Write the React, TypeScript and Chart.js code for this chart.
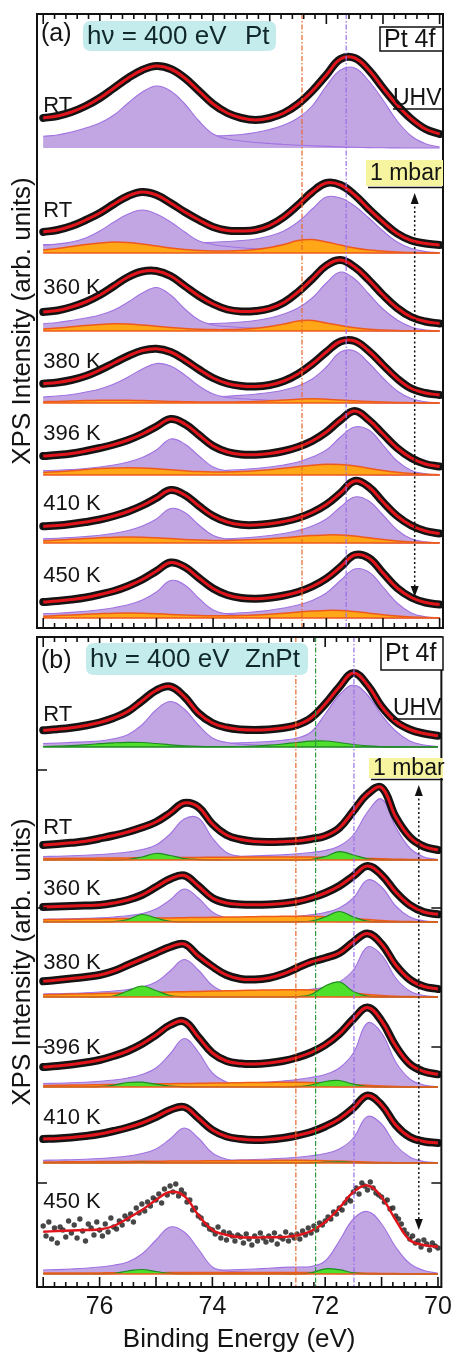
import { useEffect, useRef } from "react";
import { Chart, registerables } from "chart.js";

Chart.register(...registerables);

const FONT = '"Liberation Sans", Arial, Helvetica, sans-serif';

// ---------- axes ----------
const energyGrid = [77.0, 76.75, 76.5, 76.25, 76.0, 75.75, 75.5, 75.25, 75.0, 74.75, 74.5, 74.25, 74.0, 73.75, 73.5, 73.25, 73.0, 72.75, 72.5, 72.25, 72.0, 71.75, 71.5, 71.25, 71.0, 70.75, 70.5, 70.25, 70.0];
const scanGrid = Array.from({ length: 141 }, (_, i) => Math.round((77 - i * 0.05) * 100) / 100);
const xMin = 69.94;
const xMax = 77.11;
const xTickValues = [76, 74, 72, 70];
const yTicksB = [104, 240, 379, 517];

// ---------- panel (a) : Pt ----------
const rowLabelsA = ["RT", "RT", "360 K", "380 K", "396 K", "410 K", "450 K"];
const offsetsA = [480, 375, 297, 225, 153, 85, 10];

const fitA1 = [30, 32, 36, 42, 50, 60, 70, 78, 82, 79, 70, 57, 44, 35, 30, 28, 30, 35, 44, 57, 73, 89, 90, 78, 60, 43, 29, 19, 14];
const plA1 = [11.7, 13, 16, 20, 25, 33, 45, 56, 62, 57, 44, 27, 14, 9, 7, 5.5, 4.5, 3.5, 2.8, 2.2, 1.6, 1.1, 0.7, 0.4, 0.2, 0.1, 0, 0, 0];
const prA1 = [10.5, 10.6, 10.7, 10.8, 10.9, 11, 11.1, 11.2, 11.3, 11.4, 11.5, 11.7, 12, 12.5, 13.5, 15.5, 18.5, 23, 30, 42, 62, 78, 80, 67, 48, 27, 12, 4.3, 1];

const fitA2 = [21, 23, 27, 33, 40, 49, 57, 61, 58, 50, 41, 33, 26, 22.5, 22, 23, 27.5, 36, 48, 61, 70, 68, 58, 44, 31, 19.5, 12.5, 9.5, 8];
const plA2 = [7.7, 9, 11, 15, 22, 31, 39, 43, 39, 31, 21, 12, 8.5, 6.5, 5.2, 4.3, 3.6, 3, 2.5, 2, 1.5, 1, 0.6, 0.3, 0.1, 0, 0, 0, 0];
const prA2 = [8.5, 8.6, 8.7, 8.8, 8.9, 9, 9.2, 9.4, 9.6, 9.8, 10, 10.3, 10.8, 11.5, 12.5, 14, 17, 22, 31, 44, 56, 55, 47, 35, 22, 11, 4.5, 1.5, 0.5];
const orA2 = [3, 4.5, 6.5, 8.5, 10, 11, 10.5, 9, 7, 5, 3.5, 2.5, 2, 2, 2.5, 3.5, 5.5, 8.5, 12.5, 13.5, 11, 8, 5, 3, 2, 1, 0.5, 0.2, 0];

const fitA3 = [19, 20.5, 24, 29, 36, 45, 54, 59.5, 60, 55, 45, 35, 27, 21.5, 19.5, 20, 22.5, 28.5, 39, 52, 65.5, 71, 64, 51, 36, 23, 14, 9.5, 7.5];
const plA3 = [7.3, 8.5, 10.5, 13, 16, 21, 29, 38, 43.5, 36, 22, 11, 6, 4.5, 3.5, 2.8, 2.2, 1.8, 1.4, 1, 0.7, 0.5, 0.3, 0.2, 0, 0, 0, 0, 0];
const prA3 = [6.5, 6.5, 6.6, 6.6, 6.7, 6.7, 6.8, 6.8, 6.9, 6.9, 7, 7.1, 7.4, 8, 9, 10.5, 13, 17, 23, 33, 48, 59, 52, 37, 22, 11, 4, 1, 0.3];
const orA3 = [2, 3, 4.2, 5.5, 6.5, 7.2, 7, 6, 4.8, 3.5, 2.5, 1.8, 1.4, 1.4, 1.8, 2.8, 4.5, 7, 10, 10.5, 8, 5.5, 3.3, 1.8, 1, 0.5, 0.2, 0, 0];

const fitA4 = [19.3, 20.5, 23, 27, 33, 40, 47, 52.5, 54.3, 51, 43, 33.5, 25, 19.5, 17, 16.5, 18, 22, 29, 39, 51, 61.5, 62, 52, 38, 24.5, 14.5, 10, 8];
const plA4 = [6, 7, 8.5, 11, 14, 19, 26, 34, 39.5, 37, 28, 17, 9, 5.5, 4.2, 3.4, 2.8, 2.2, 1.7, 1.3, 0.9, 0.6, 0.4, 0.2, 0.1, 0, 0, 0, 0];
const prA4 = [5.5, 5.5, 5.5, 5.5, 5.5, 5.5, 5.5, 5.5, 5.5, 5.6, 5.7, 5.9, 6.2, 6.8, 7.6, 8.8, 10.5, 13, 17, 24, 36, 51, 52, 40, 25, 12, 4.5, 1.2, 0.3];
const orA4 = [1.2, 1.6, 2, 2.4, 2.7, 2.8, 2.7, 2.4, 2, 1.6, 1.3, 1.1, 1, 1, 1.2, 1.6, 2.2, 3, 3.8, 4.2, 3.8, 3, 2.2, 1.5, 1, 0.6, 0.3, 0.1, 0];

const fitA5 = [19, 20, 21.5, 24, 27, 30.5, 35, 41, 48.5, 56, 51, 40, 29, 23, 20.5, 20.3, 21.5, 24, 28, 34, 43, 55, 64, 55, 41, 27, 17, 11, 8.5];
const plA5 = [4.3, 4.8, 5.5, 6.5, 8, 10, 13, 17.5, 25, 36, 31, 19, 8, 4, 2.8, 2.2, 1.8, 1.4, 1.1, 0.8, 0.6, 0.4, 0.3, 0.2, 0.1, 0, 0, 0, 0];
const prA5 = [4, 4, 4, 4, 4, 4, 4, 4, 4, 4, 4, 4, 4.2, 4.6, 5.5, 6.5, 8, 10, 13, 18, 25, 38, 48, 45, 30, 14, 4.5, 1.2, 0.3];
const orA5 = [2.5, 3.3, 4.3, 5.4, 6.4, 7, 7.3, 7, 6.2, 5.2, 4.2, 3.4, 3, 3, 3.4, 4.2, 5.3, 6.7, 8.3, 9.8, 10.8, 10.5, 9, 6.8, 4.5, 2.7, 1.4, 0.7, 0.3];

const fitA6 = [16.7, 17.5, 19, 21, 23.5, 27, 31.5, 37.5, 45, 53, 48, 37, 27, 21, 18.2, 18, 19.2, 21.5, 25, 30.5, 38.5, 50, 62, 56, 41, 27, 17.5, 12, 9.5];
const plA6 = [4.3, 4.8, 5.5, 6.5, 7.8, 9.7, 12.5, 17, 24, 34.5, 30.5, 18, 7.5, 3.8, 2.7, 2.1, 1.7, 1.3, 1, 0.8, 0.6, 0.4, 0.3, 0.2, 0.1, 0, 0, 0, 0];
const prA6 = [3.8, 3.8, 3.8, 3.8, 3.8, 3.8, 3.8, 3.8, 3.8, 3.8, 3.8, 3.8, 4, 4.3, 5, 6, 7.5, 9.5, 12.5, 17, 24, 36, 46, 42, 28, 13, 4.2, 1.1, 0.3];
const orA6 = [2.2, 2.9, 3.7, 4.5, 5.2, 5.8, 6, 5.8, 5.2, 4.4, 3.6, 3, 2.6, 2.6, 2.9, 3.5, 4.3, 5.3, 6.4, 7.4, 8.1, 8, 6.9, 5.2, 3.5, 2.1, 1.1, 0.5, 0.2];

const fitA7 = [16, 17, 18.5, 20.5, 23.5, 27, 32, 38.5, 47, 55.5, 51, 40, 29.5, 23, 20, 19.3, 20.3, 22.5, 26, 31.5, 39.5, 51, 63, 60, 45, 30, 20.5, 15.5, 13.5];
const plA7 = [4.3, 4.8, 5.6, 6.7, 8.2, 10.3, 13.3, 18, 26, 37.5, 33, 19.5, 8, 4, 2.8, 2.2, 1.7, 1.3, 1, 0.8, 0.6, 0.4, 0.3, 0.2, 0.1, 0, 0, 0, 0];
const prA7 = [4, 4, 4, 4, 4, 4, 4, 4, 4, 4, 4, 4, 4.2, 4.5, 5.2, 6.2, 7.8, 10, 13, 17.5, 25, 37.5, 49, 46, 31, 15, 5, 1.3, 0.3];
const orA7 = [1.8, 2.4, 3, 3.7, 4.3, 4.8, 5, 4.8, 4.3, 3.6, 3, 2.5, 2.2, 2.2, 2.5, 3, 3.8, 4.8, 5.9, 6.9, 7.6, 7.5, 6.4, 4.8, 3.2, 1.9, 1, 0.4, 0.2];

// ---------- panel (b) : ZnPt ----------
const rowLabelsB = ["RT", "RT", "360 K", "380 K", "396 K", "410 K", "450 K"];
const offsetsB = [540, 427, 365, 290, 200, 124, 13];

const fitB1 = [16.7, 17.8, 19.3, 21.5, 24.5, 29, 35.5, 46, 56.5, 60.5, 50.5, 34, 24, 19.5, 17.5, 17, 17.5, 19, 22, 29, 43, 60, 74, 62, 40.5, 25.5, 17.5, 13.5, 11.3];
const plB1 = [3.5, 4, 4.6, 5.2, 6, 8.3, 12.3, 22, 37, 45.5, 38, 22, 9, 4.5, 2.8, 2, 1.5, 1.2, 1, 0.8, 0.6, 0.4, 0.3, 0.2, 0.1, 0, 0, 0, 0];
const prB1 = [3.3, 3.3, 3.3, 3.3, 3.3, 3.3, 3.3, 3.3, 3.3, 3.3, 3.3, 3.3, 3.5, 3.8, 4.2, 4.8, 5.5, 6.7, 9, 15, 33, 52, 62, 52, 32, 16, 6, 2, 0.5];
const grB1 = [0.5, 0.8, 1.3, 2.2, 3.3, 4.2, 4.7, 4.5, 3.5, 2.2, 1.2, 0.6, 0.3, 0.3, 0.5, 1, 1.8, 3, 4.5, 5.8, 6, 4.5, 2.5, 1.1, 0.4, 0.1, 0, 0, 0];

const fitB2 = [15, 16, 17.2, 18.7, 21.5, 24.5, 28, 32.5, 38, 47, 57, 53, 36, 25, 20.5, 18.5, 18, 18.3, 19, 21, 24, 32, 49, 66, 72.5, 43, 23, 13.5, 10];
const plB2 = [3.5, 3.8, 4.2, 4.8, 5.5, 6.5, 8, 10.5, 15, 26, 41, 42, 22, 7.5, 3.5, 2.2, 1.6, 1.3, 1, 0.8, 0.6, 0.5, 0.4, 0.3, 0.2, 0.1, 0, 0, 0];
const prB2 = [3, 3, 3, 3, 3, 3, 3, 3, 3, 3, 3, 3, 3.2, 3.4, 3.7, 4.1, 4.6, 5.3, 6.2, 7.5, 9.5, 14, 25, 48, 61, 33, 12, 3, 0.5];
const grB2 = [0, 0, 0, 0, 0, 0, 0.5, 3, 6.5, 4.5, 1.5, 0.4, 0, 0, 0, 0, 0, 0, 0, 0.4, 3.5, 8.3, 5, 1.2, 0.2, 0, 0, 0, 0];
const orB2 = [1.5, 1.6, 1.7, 1.8, 1.9, 2, 2.1, 2.2, 2.3, 2.4, 2.5, 2.6, 2.7, 2.8, 2.9, 3, 3, 3, 3, 2.9, 2.7, 2.4, 2, 1.6, 1.2, 0.8, 0.5, 0.3, 0.2];

const fitB3 = [15, 15.5, 16, 16.5, 17, 19, 22, 27, 35, 43, 46.5, 36, 24, 19, 17.5, 17.2, 17.5, 18.5, 20.5, 24, 29, 36, 46, 56, 47, 30, 17, 10, 7.7];
const plB3 = [2.8, 3, 3.3, 3.7, 4.2, 5, 6.3, 8.5, 13, 22, 33, 24, 10, 4, 2.2, 1.5, 1.1, 0.9, 0.7, 0.6, 0.5, 0.4, 0.3, 0.2, 0.1, 0, 0, 0, 0];
const prB3 = [2.5, 2.5, 2.5, 2.5, 2.5, 2.5, 2.5, 2.5, 2.5, 2.5, 2.5, 2.5, 2.6, 2.8, 3.1, 3.5, 4, 4.7, 5.7, 7.2, 9.5, 14, 24, 42, 35, 16, 5, 1.2, 0.3];
const grB3 = [0, 0, 0, 0, 0, 0.3, 2.5, 7.5, 4, 0.6, 0.1, 0, 0, 0, 0, 0, 0, 0, 0.2, 1, 5, 10.5, 5, 0.8, 0.1, 0, 0, 0, 0];
const orB3 = [2.3, 2.5, 2.7, 2.9, 3.1, 3.3, 3.5, 3.7, 3.9, 4.1, 4.3, 4.5, 4.7, 4.9, 5.1, 5.3, 5.5, 5.7, 5.8, 5.7, 5.3, 4.6, 3.6, 2.5, 1.5, 0.8, 0.4, 0.2, 0.1];

const fitB4 = [15.7, 17, 18.5, 20, 22, 26, 32, 38, 44, 50, 53, 41, 30.5, 22, 18, 17.5, 19, 23, 29, 35, 39, 44, 55, 63.5, 53, 32, 17.5, 10.5, 8];
const plB4 = [3, 3.3, 3.7, 4.2, 5, 6, 7.5, 10, 15, 26, 37.5, 27, 11.5, 4.5, 2.3, 1.5, 1.1, 0.9, 0.7, 0.6, 0.5, 0.4, 0.3, 0.2, 0.1, 0, 0, 0, 0];
const prB4 = [2.7, 2.7, 2.7, 2.7, 2.7, 2.7, 2.7, 2.7, 2.7, 2.7, 2.7, 2.7, 2.8, 3, 3.3, 3.7, 4.2, 5, 6, 7.6, 10, 15, 27, 50, 42, 19, 6, 1.5, 0.3];
const grB4 = [0, 0, 0, 0, 0, 1, 6, 11, 6.5, 1.5, 0.2, 0, 0, 0, 0, 0, 0, 0, 0.3, 2.5, 11, 15, 5.5, 0.8, 0.1, 0, 0, 0, 0];
const orB4 = [2.3, 2.6, 2.9, 3.2, 3.5, 3.8, 4.1, 4.4, 4.7, 5, 5.3, 5.6, 5.9, 6.2, 6.5, 6.8, 7, 7.2, 7.3, 7.1, 6.4, 5.2, 3.8, 2.5, 1.5, 0.8, 0.4, 0.2, 0.1];

const fitB5 = [20, 21, 22.5, 24.5, 27, 31, 36, 43, 52, 62, 65.5, 50, 34, 26, 23.5, 23, 24, 26, 29.5, 34.5, 42, 53, 68, 79.5, 66, 41, 23, 15.5, 12.7];
const plB5 = [3.5, 3.8, 4.2, 4.8, 5.7, 7, 9, 12.5, 19, 33, 48.5, 35, 14, 5, 2.5, 1.6, 1.2, 0.9, 0.7, 0.6, 0.5, 0.4, 0.3, 0.2, 0.1, 0, 0, 0, 0];
const prB5 = [3, 3, 3, 3, 3, 3, 3, 3, 3, 3, 3, 3, 3.2, 3.4, 3.8, 4.3, 5, 6, 7.4, 9.5, 12.5, 19, 34, 64, 54, 25, 8, 2, 0.4];
const grB5 = [0, 0, 0, 0, 0.3, 1.8, 4.5, 4.8, 2.8, 0.9, 0.2, 0, 0, 0, 0, 0, 0, 0, 0.3, 2, 5.5, 6.5, 2.8, 0.5, 0, 0, 0, 0, 0];
const orB5 = [1.5, 1.7, 1.9, 2.1, 2.3, 2.5, 2.7, 2.9, 3.1, 3.3, 3.5, 3.7, 3.9, 4.1, 4.3, 4.5, 4.6, 4.7, 4.7, 4.5, 4, 3.3, 2.5, 1.7, 1, 0.5, 0.3, 0.1, 0];

const fitB6 = [24, 24.5, 25.5, 27, 29, 32, 35.5, 40, 46, 53, 56, 45, 33, 26.5, 24, 23, 23.5, 25, 27.5, 31, 36.5, 44, 55, 67.5, 58, 38, 26, 21.5, 20];
const plB6 = [2.7, 3, 3.3, 3.8, 4.5, 5.5, 7, 9.5, 14, 24, 35, 25, 10, 3.8, 2, 1.4, 1, 0.8, 0.7, 0.6, 0.5, 0.4, 0.3, 0.2, 0.1, 0, 0, 0, 0];
const prB6 = [2.5, 2.5, 2.5, 2.5, 2.5, 2.5, 2.5, 2.5, 2.5, 2.5, 2.5, 2.5, 2.6, 2.8, 3.1, 3.5, 4, 4.7, 5.7, 7.2, 9.5, 14, 25, 46.5, 39, 18, 6, 1.5, 0.3];
const grB6 = [0, 0, 0, 0, 0, 0, 0.3, 0.6, 0.3, 0, 0, 0, 0, 0, 0, 0, 0, 0, 0, 0.2, 0.8, 1.2, 0.5, 0.1, 0, 0, 0, 0, 0];
const orB6 = [1, 1.1, 1.2, 1.3, 1.4, 1.5, 1.6, 1.7, 1.8, 1.9, 2, 2.1, 2.2, 2.3, 2.4, 2.5, 2.6, 2.7, 2.7, 2.6, 2.3, 1.9, 1.4, 1, 0.6, 0.3, 0.2, 0.1, 0];

const fitB7 = [42.3, 43, 43.5, 44, 44.5, 48, 55.7, 64, 74, 82, 78, 59, 44, 39, 36.7, 36.5, 36.7, 37, 38.5, 43, 52, 66, 82, 88.5, 77, 54, 34, 29, 27.3];
const plB7 = [4, 4.4, 5, 5.8, 7, 8.8, 12, 20, 34, 47, 42, 25, 7, 3, 2, 1.4, 1.1, 0.9, 0.7, 0.6, 0.5, 0.4, 0.3, 0.2, 0.1, 0, 0, 0, 0];
const prB7 = [3.5, 3.5, 3.5, 3.5, 3.5, 3.5, 3.5, 3.5, 3.5, 3.5, 3.5, 3.5, 3.7, 4, 4.4, 5, 5.7, 6.6, 7, 7.5, 13, 33, 55, 62.5, 50, 27, 10.5, 3.5, 0.8];
const grB7 = [0, 0, 0, 0, 0, 0.5, 3, 4.5, 2.5, 0.6, 0.1, 0, 0, 0, 0, 0, 0, 0, 0, 1.2, 5.2, 4.3, 1.2, 0.2, 0, 0, 0, 0, 0];
const orB7 = [1, 1, 1, 1.1, 1.1, 1.2, 1.2, 1.3, 1.3, 1.4, 1.4, 1.5, 1.5, 1.5, 1.6, 1.6, 1.6, 1.6, 1.6, 1.5, 1.4, 1.2, 1, 0.8, 0.6, 0.4, 0.2, 0.1, 0];
// raw (noisy) counts of the 450 K ZnPt spectrum on the 0.05 eV scan grid
const rawB7 = [
  48, 38, 52, 35, 46, 31, 47, 44, 37, 53,
  41, 49, 36, 55, 43, 33, 50, 46, 39, 52,
  44, 38, 50, 42, 56, 47, 45, 53, 49, 58,
  55, 60, 52, 66, 61, 70, 63, 72, 68, 76,
  74, 80, 71, 85, 79, 88, 82, 90, 78, 84,
  80, 72, 74, 64, 66, 58, 56, 50, 49, 45,
  44, 40, 47, 36, 42, 34, 41, 38, 33, 39,
  37, 31, 40, 35, 29, 38, 33, 41, 36, 32,
  38, 34, 41, 30, 37, 35, 42, 33, 39, 36,
  40, 35, 43, 39, 46, 41, 48, 44, 51, 49,
  53, 57, 55, 62, 60, 66, 64, 71, 75, 73,
  82, 86, 80, 91, 88, 84, 92, 86, 81, 79,
  77, 72, 74, 65, 66, 58, 55, 50, 44, 40,
  35, 38, 31, 33, 27, 34, 30, 24, 31, 28,
  26,
];

const fitsA = [fitA1, fitA2, fitA3, fitA4, fitA5, fitA6, fitA7];
const purpleLA = [plA1, plA2, plA3, plA4, plA5, plA6, plA7];
const purpleRA = [prA1, prA2, prA3, prA4, prA5, prA6, prA7];
const orangeA = [null, orA2, orA3, orA4, orA5, orA6, orA7];
const greenA = [null, null, null, null, null, null, null];

const fitsB = [fitB1, fitB2, fitB3, fitB4, fitB5, fitB6, fitB7];
const purpleLB = [plB1, plB2, plB3, plB4, plB5, plB6, plB7];
const purpleRB = [prB1, prB2, prB3, prB4, prB5, prB6, prB7];
const orangeB = [null, orB2, orB3, orB4, orB5, orB6, orB7];
const greenB = [grB1, grB2, grB3, grB4, grB5, grB6, grB7];

// ---------- styles ----------
const PURPLE_FILL = "#c2a5e3";
const PURPLE_LINE = "#a073e2";
const ORANGE_FILL = "#ffa716";
const ORANGE_LINE = "#ee5a1e";
const GREEN_FILL = "#4fe02c";
const GREEN_LINE = "#1f8a24";
const RED = "#e0141a";
const BLACK = "#141414";
const CYAN = "#c4ecec";
const YELLOW = "#f7f4a0";

function curve(offset: number, values: number[], opts: any) {
  return {
    data: energyGrid.map((x, j) => ({ x, y: offset + values[j] })),
    pointRadius: 0,
    tension: 0.4,
    ...opts,
  };
}

function buildDatasets(offsets: number[], fits: number[][], pl: number[][], pr: number[][], or: any[], gr: any[], noisyRow: number, raw: number[] | null) {
  const out: any[] = [];
  offsets.forEach((off, i) => {
    out.push(curve(off, pr[i], { fill: { value: off }, backgroundColor: PURPLE_FILL, borderColor: PURPLE_LINE, borderWidth: 1.1, order: 6 }));
    out.push(curve(off, pl[i], { fill: { value: off }, backgroundColor: PURPLE_FILL, borderColor: PURPLE_LINE, borderWidth: 1.1, order: 5 }));
    if (or[i]) out.push(curve(off, or[i], { fill: { value: off }, backgroundColor: ORANGE_FILL, borderColor: ORANGE_LINE, borderWidth: 1.5, order: 4 }));
    if (gr[i]) out.push(curve(off, gr[i], { fill: { value: off }, backgroundColor: GREEN_FILL, borderColor: GREEN_LINE, borderWidth: 1.2, order: 3 }));
    if (i === noisyRow && raw) {
      out.push({
        data: scanGrid.map((x, j) => ({ x, y: off + raw[j] })),
        showLine: false,
        pointRadius: 2.7,
        pointBorderWidth: 0,
        pointBackgroundColor: "rgba(45,45,45,0.88)",
        order: 2,
      });
      out.push(curve(off, fits[i], { borderColor: RED, borderWidth: 2.4, fill: false, order: 1 }));
    } else {
      out.push(curve(off, fits[i], { borderColor: BLACK, borderWidth: 8, fill: false, borderJoinStyle: "round", borderCapStyle: "round", order: 2 }));
      out.push(curve(off, fits[i], { borderColor: RED, borderWidth: 3, fill: false, order: 1 }));
    }
  });
  return out;
}

function text(ctx: CanvasRenderingContext2D, s: string, x: number, y: number, size: number, color = "#141414") {
  ctx.font = `${size}px ${FONT}`;
  ctx.fillStyle = color;
  ctx.textAlign = "left";
  ctx.textBaseline = "middle";
  ctx.fillText(s, x, y);
}

function roundRect(ctx: CanvasRenderingContext2D, x: number, y: number, w: number, h: number, r: number) {
  ctx.beginPath();
  ctx.moveTo(x + r, y);
  ctx.lineTo(x + w - r, y);
  ctx.quadraticCurveTo(x + w, y, x + w, y + r);
  ctx.lineTo(x + w, y + h - r);
  ctx.quadraticCurveTo(x + w, y + h, x + w - r, y + h);
  ctx.lineTo(x + r, y + h);
  ctx.quadraticCurveTo(x, y + h, x, y + h - r);
  ctx.lineTo(x, y + r);
  ctx.quadraticCurveTo(x, y, x + r, y);
  ctx.closePath();
}

function decorPlugin(d: any) {
  return {
    id: "decor" + d.tag,
    afterDatasetsDraw(chart: any) {
      const { ctx, chartArea: a, scales } = chart;
      const xs = scales.x;
      const ys = scales.y;
      ctx.save();
      // baselines under each spectrum
      d.offsets.forEach((off: number, i: number) => {
        if (!d.baseColors[i]) return;
        const py = ys.getPixelForValue(off);
        ctx.strokeStyle = d.baseColors[i];
        ctx.lineWidth = 1.6;
        ctx.beginPath();
        ctx.moveTo(xs.getPixelForValue(77.0), py);
        ctx.lineTo(xs.getPixelForValue(70.0), py);
        ctx.stroke();
      });
      // dash-dot reference lines
      d.markers.forEach((m: any) => {
        const px = xs.getPixelForValue(m.be);
        ctx.strokeStyle = m.color;
        ctx.lineWidth = 1.2;
        ctx.setLineDash([5, 2, 1.5, 2]);
        ctx.beginPath();
        ctx.moveTo(px, a.top);
        ctx.lineTo(px, a.bottom);
        ctx.stroke();
      });
      // dotted double arrow
      const ax = xs.getPixelForValue(d.arrow.be);
      const yt = ys.getPixelForValue(d.arrow.top);
      const yb = ys.getPixelForValue(d.arrow.bottom);
      ctx.strokeStyle = "#111";
      ctx.lineWidth = 1.5;
      ctx.setLineDash([2, 2.5]);
      ctx.beginPath();
      ctx.moveTo(ax, yt + 9);
      ctx.lineTo(ax, yb - 9);
      ctx.stroke();
      ctx.setLineDash([]);
      ctx.fillStyle = "#111";
      ctx.beginPath();
      ctx.moveTo(ax, yt);
      ctx.lineTo(ax - 4, yt + 11);
      ctx.lineTo(ax + 4, yt + 11);
      ctx.closePath();
      ctx.fill();
      ctx.beginPath();
      ctx.moveTo(ax, yb);
      ctx.lineTo(ax - 4, yb - 11);
      ctx.lineTo(ax + 4, yb - 11);
      ctx.closePath();
      ctx.fill();
      ctx.restore();
    },
    afterDraw(chart: any) {
      const { ctx, chartArea: a, scales } = chart;
      const xs = scales.x;
      const ys = scales.y;
      ctx.save();
      ctx.setLineDash([]);
      // frame
      ctx.strokeStyle = "#111";
      ctx.lineWidth = 2;
      ctx.strokeRect(a.left, a.top, a.right - a.left, a.bottom - a.top);
      // inward x ticks (top & bottom)
      ctx.lineWidth = 1.6;
      for (let k = 0; k <= 35; k++) {
        const v = 70 + k * 0.2;
        const px = xs.getPixelForValue(v);
        const len = k % 5 === 0 ? 10 : 5;
        ctx.beginPath();
        ctx.moveTo(px, a.bottom);
        ctx.lineTo(px, a.bottom - len);
        ctx.moveTo(px, a.top);
        ctx.lineTo(px, a.top + len);
        ctx.stroke();
      }
      // inward y ticks
      d.yTicks.forEach((v: number) => {
        const py = ys.getPixelForValue(v);
        ctx.beginPath();
        ctx.moveTo(a.left, py);
        ctx.lineTo(a.left + 10, py);
        ctx.moveTo(a.right, py);
        ctx.lineTo(a.right - 10, py);
        ctx.stroke();
      });
      // panel tag and photon-energy box
      text(ctx, d.tag, 41, d.tagY, 25);
      ctx.fillStyle = CYAN;
      roundRect(ctx, d.box.x, d.box.y, d.box.w, d.box.h, 8);
      ctx.fill();
      text(ctx, "h\u03BD = 400 eV", d.box.x + 4, d.box.y + d.box.h / 2 + 1, 26, "#10282a");
      text(ctx, d.sample, 245, d.box.y + d.box.h / 2 + 1, 26, "#10282a");
      // core level box
      ctx.fillStyle = "#fff";
      ctx.fillRect(d.pt.x, d.pt.y, d.pt.w, d.pt.h);
      ctx.strokeStyle = "#111";
      ctx.lineWidth = 1.5;
      ctx.strokeRect(d.pt.x, d.pt.y, d.pt.w, d.pt.h);
      text(ctx, "Pt 4f", d.pt.x + 4, d.pt.y + d.pt.h / 2 + 1, 25);
      // UHV
      text(ctx, "UHV", 393, d.uhvY, 23);
      ctx.lineWidth = 1.5;
      ctx.beginPath();
      ctx.moveTo(393, d.uhvY + 10);
      ctx.lineTo(442, d.uhvY + 10);
      ctx.stroke();
      // 1 mbar
      ctx.fillStyle = YELLOW;
      ctx.fillRect(d.mbar.x, d.mbar.y, 443 - d.mbar.x, d.mbar.h);
      text(ctx, "1 mbar", d.mbar.x + 4, d.mbar.y + d.mbar.h / 2 + 1, 23);
      ctx.strokeStyle = "#111";
      ctx.beginPath();
      ctx.moveTo(d.mbar.x + 2, d.mbar.y + d.mbar.h + 1.5);
      ctx.lineTo(443, d.mbar.y + d.mbar.h + 1.5);
      ctx.stroke();
      // row labels
      d.labels.forEach((s: string, i: number) => {
        text(ctx, s, xs.getPixelForValue(77.0), ys.getPixelForValue(d.offsets[i] + d.labelLift[i]), 22);
      });
      ctx.restore();
    },
  };
}

function makeConfig(opts: any) {
  const xAxis: any = {
    type: "linear",
    min: xMin,
    max: xMax,
    reverse: true,
    display: opts.showX,
    grid: { display: false, drawTicks: false },
    border: { display: false },
    afterBuildTicks: (s: any) => {
      s.ticks = xTickValues.map((v) => ({ value: v }));
    },
    ticks: {
      font: { family: FONT, size: 25 },
      color: "#141414",
      padding: 5,
      maxRotation: 0,
      autoSkip: false,
      callback: (v: any) => String(v),
    },
    title: {
      display: opts.showX,
      text: "Binding Energy (eV)",
      font: { family: FONT, size: 26 },
      color: "#141414",
      padding: { top: 0, bottom: 1.5 },
    },
  };
  if (opts.showX) xAxis.afterFit = (s: any) => { s.height = 70; };
  return {
    type: "line",
    data: { datasets: opts.datasets },
    options: {
      responsive: false,
      maintainAspectRatio: false,
      animation: false,
      devicePixelRatio: 1,
      events: [],
      layout: { padding: opts.padding },
      plugins: { legend: { display: false }, tooltip: { enabled: false } },
      scales: {
        x: xAxis,
        y: {
          type: "linear",
          min: 0,
          max: opts.yMax,
          grid: { display: false, drawTicks: false },
          border: { display: false },
          ticks: { display: false },
          title: {
            display: true,
            text: "XPS Intensity (arb. units)",
            font: { family: FONT, size: 26 },
            color: "#141414",
            padding: { top: 7, bottom: 0 },
          },
          afterFit: (s: any) => { s.width = 37; },
        },
      },
    },
    plugins: [decorPlugin(opts.decor)],
  };
}

export default function App() {
  const refA = useRef<HTMLCanvasElement>(null);
  const refB = useRef<HTMLCanvasElement>(null);

  useEffect(() => {
    const cfgA = makeConfig({
      datasets: buildDatasets(offsetsA, fitsA, purpleLA, purpleRA, orangeA, greenA, -1, null),
      padding: { top: 14, right: 14, bottom: 4, left: 0 },
      yMax: 614,
      showX: false,
      decor: {
        tag: "(a)",
        tagY: 34,
        sample: "Pt",
        box: { x: 83, y: 21, w: 193, h: 30 },
        pt: { x: 380, y: 27, w: 63, h: 24 },
        uhvY: 99,
        mbar: { x: 366, y: 160, h: 26 },
        offsets: offsetsA,
        labels: rowLabelsA,
        labelLift: [42.5, 42, 43.5, 41, 41, 39, 42],
        baseColors: [null, ORANGE_LINE, ORANGE_LINE, ORANGE_LINE, ORANGE_LINE, ORANGE_LINE, ORANGE_LINE],
        markers: [{ be: 72.43, color: "#e8672a" }, { be: 71.65, color: "#9a6ee6" }],
        arrow: { be: 70.44, top: 435, bottom: 31 },
        yTicks: [],
      },
    });
    const cfgB = makeConfig({
      datasets: buildDatasets(offsetsB, fitsB, purpleLB, purpleRB, orangeB, greenB, 6, rawB7),
      padding: { top: 5, right: 14, bottom: 0, left: 0 },
      yMax: 650,
      showX: true,
      decor: {
        tag: "(b)",
        tagY: 29,
        sample: "ZnPt",
        box: { x: 86, y: 11, w: 222, h: 32 },
        pt: { x: 381, y: 5, w: 62, h: 33 },
        uhvY: 77,
        mbar: { x: 369, y: 126, h: 20 },
        offsets: offsetsB,
        labels: rowLabelsB,
        labelLift: [32, 32, 33, 34, 39, 45, 72],
        baseColors: [GREEN_LINE, ORANGE_LINE, ORANGE_LINE, ORANGE_LINE, ORANGE_LINE, ORANGE_LINE, ORANGE_LINE],
        markers: [{ be: 72.52, color: "#e8672a" }, { be: 72.17, color: "#2a9a3a" }, { be: 71.49, color: "#9a6ee6" }],
        arrow: { be: 70.34, top: 502, bottom: 57 },
        yTicks: yTicksB,
      },
    });
    const chartA = new Chart(refA.current as HTMLCanvasElement, cfgA as any);
    const chartB = new Chart(refB.current as HTMLCanvasElement, cfgB as any);
    return () => {
      chartA.destroy();
      chartB.destroy();
    };
  }, []);

  return (
    <div style={{ position: "absolute", left: 0, top: 0, width: 457, height: 1357, background: "#fff" }}>
      <canvas ref={refA} width={457} height={632} style={{ position: "absolute", left: 0, top: 0, width: 457, height: 632 }} />
      <canvas ref={refB} width={457} height={725} style={{ position: "absolute", left: 0, top: 632, width: 457, height: 725 }} />
    </div>
  );
}
